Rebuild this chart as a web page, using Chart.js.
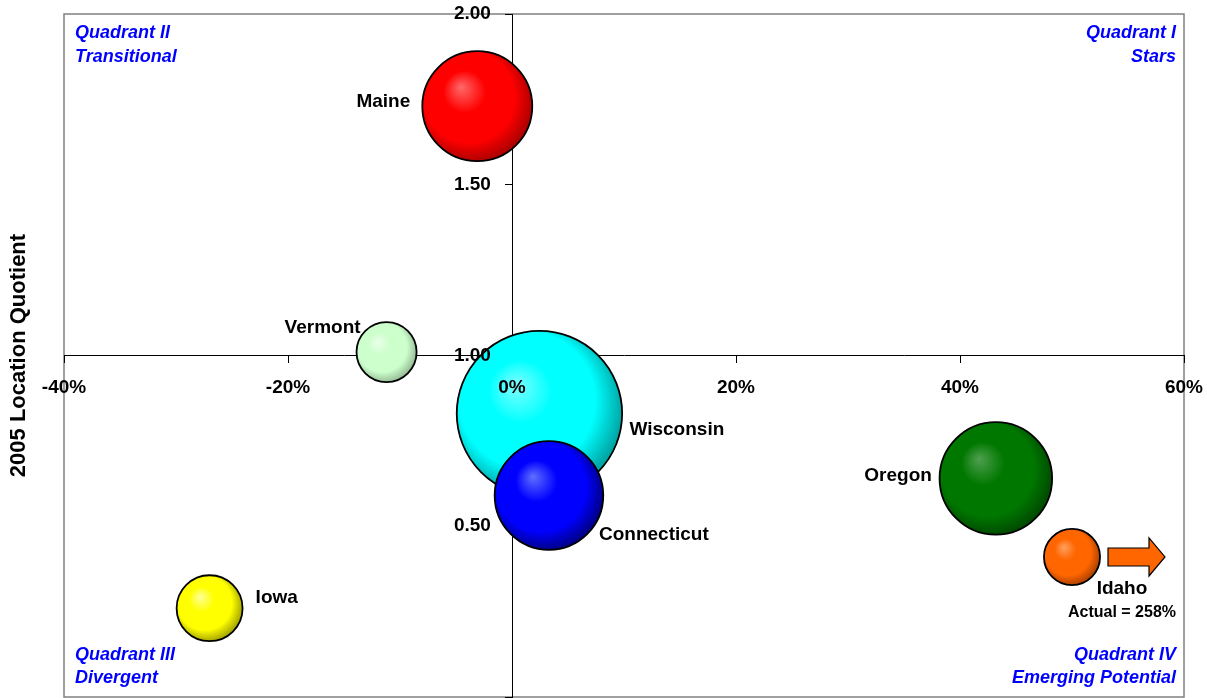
<!DOCTYPE html>
<html>
<head>
<meta charset="utf-8">
<title>2005 Location Quotient</title>
<script src="https://cdn.jsdelivr.net/npm/chart.js@4"></script>
<style>
  body { margin: 0; background: #fff; }
  #lqCanvas { display: block; }
</style>
</head>
<body>
<canvas id="lqCanvas" width="1207" height="698"></canvas>
<script>
// values
const stateNames = ["Maine", "Vermont", "Wisconsin", "Connecticut", "Oregon", "Idaho", "Iowa"];
const growthPct = [-3.1, -11.2, 2.45, 3.3, 43.2, 50.0, -27.0];   // plotted x (Idaho capped, actual 258%)
const locationQuotient = [1.73, 1.01, 0.83, 0.59, 0.64, 0.41, 0.26];
const bubbleSize = [44.2, 13.2, 100, 43.1, 46.3, 11.5, 15.9];    // relative, Wisconsin = 100
const xTickValues = [-40, -20, 0, 20, 40, 60];
const yTickValues = [0, 0.5, 1.0, 1.5, 2.0];
const idahoNote = "Actual = 258%";

const quadrantLabels = [
  ["Quadrant II", "Transitional"],
  ["Quadrant I", "Stars"],
  ["Quadrant III", "Divergent"],
  ["Quadrant IV", "Emerging Potential"]
];

// bubble shading: highlight, body, rim
const bubbleColors = [
  ["#ff6a6a", "#ff0000", "#b00000"],
  ["#eaffea", "#ccffcc", "#98bf98"],
  ["#80ffff", "#00ffff", "#00a8a8"],
  ["#6070ff", "#0000ff", "#00008c"],
  ["#4f9f4f", "#007800", "#004c00"],
  ["#ffa060", "#ff6600", "#b04300"],
  ["#ffff9a", "#ffff00", "#a8a800"]
];

// label placement relative to bubble centre: [dx, dy, align]
const labelOffsets = [
  [-67, -4, "right"],
  [-26, -24, "right"],
  [90, 16, "left"],
  [50, 39, "left"],
  [-64, -3, "right"],
  [50, 32, "center"],
  [46, -10, "left"]
];

const FONT = "'Liberation Sans', Arial, sans-serif";
const MAX_R = 82.7;

const bubbleData = stateNames.map((s, i) => ({
  x: growthPct[i],
  y: locationQuotient[i],
  r: MAX_R * Math.sqrt(bubbleSize[i] / 100)
}));

function bubbleFill(context) {
  const i = context.dataIndex;
  if (i === undefined) return "#ccc";
  const chart = context.chart;
  const sx = chart.scales.x, sy = chart.scales.y;
  if (!chart.chartArea || !sx || sx.width === 0) return bubbleColors[i][1];
  const cx = sx.getPixelForValue(growthPct[i]);
  const cy = sy.getPixelForValue(locationQuotient[i]);
  const r = bubbleData[i].r;
  const g = chart.ctx.createRadialGradient(cx - r * 0.3, cy - r * 0.35, 0, cx - r * 0.1, cy - r * 0.1, r * 1.1);
  g.addColorStop(0, bubbleColors[i][0]);
  g.addColorStop(0.35, bubbleColors[i][1]);
  g.addColorStop(0.75, bubbleColors[i][1]);
  g.addColorStop(1, bubbleColors[i][2]);
  return g;
}

// the axes sit inside the plot, so they must not take room in the layout
const zeroSize = (scale) => {
  scale.width = 0; scale.height = 0;
  scale.paddingLeft = 0; scale.paddingRight = 0;
  scale.paddingTop = 0; scale.paddingBottom = 0;
};

const decorations = {
  id: "decorations",
  beforeDraw(chart) {
    const ctx = chart.ctx;
    const a = chart.chartArea;
    ctx.save();
    ctx.strokeStyle = "#808080";
    ctx.lineWidth = 1.5;
    ctx.strokeRect(a.left, a.top, a.right - a.left, a.bottom - a.top);
    ctx.restore();
  },
  afterDraw(chart) {
    const ctx = chart.ctx;
    const a = chart.chartArea;
    const sx = chart.scales.x, sy = chart.scales.y;
    ctx.save();

    // axis title
    ctx.fillStyle = "#000";
    ctx.font = "bold 22px " + FONT;
    ctx.textAlign = "center";
    ctx.textBaseline = "middle";
    ctx.translate(19, (a.top + a.bottom) / 2);
    ctx.rotate(-Math.PI / 2);
    ctx.fillText("2005 Location Quotient", 0, 0);
    ctx.setTransform(1, 0, 0, 1, 0, 0);

    // quadrant captions
    ctx.fillStyle = "#0000ff";
    ctx.font = "italic bold 18px " + FONT;
    ctx.textAlign = "left";
    ctx.fillText(quadrantLabels[0][0], a.left + 11, a.top + 19);
    ctx.fillText(quadrantLabels[0][1], a.left + 11, a.top + 43);
    ctx.fillText(quadrantLabels[2][0], a.left + 11, a.bottom - 42);
    ctx.fillText(quadrantLabels[2][1], a.left + 11, a.bottom - 19);
    ctx.textAlign = "right";
    ctx.fillText(quadrantLabels[1][0], a.right - 8, a.top + 19);
    ctx.fillText(quadrantLabels[1][1], a.right - 8, a.top + 43);
    ctx.fillText(quadrantLabels[3][0], a.right - 8, a.bottom - 42);
    ctx.fillText(quadrantLabels[3][1], a.right - 8, a.bottom - 19);

    // state names
    ctx.fillStyle = "#000";
    ctx.font = "bold 19px " + FONT;
    stateNames.forEach((name, i) => {
      const cx = sx.getPixelForValue(growthPct[i]);
      const cy = sy.getPixelForValue(locationQuotient[i]);
      const o = labelOffsets[i];
      ctx.textAlign = o[2];
      ctx.fillText(name, cx + o[0], cy + o[1]);
    });

    // Idaho: off-scale note and arrow
    const ii = stateNames.indexOf("Idaho");
    const ix = sx.getPixelForValue(growthPct[ii]);
    const iy = sy.getPixelForValue(locationQuotient[ii]);
    ctx.font = "bold 16px " + FONT;
    ctx.textAlign = "center";
    ctx.fillText(idahoNote, ix + labelOffsets[ii][0], iy + labelOffsets[ii][1] + 24);

    ctx.beginPath();
    ctx.moveTo(ix + 36, iy - 9);
    ctx.lineTo(ix + 77, iy - 9);
    ctx.lineTo(ix + 77, iy - 19);
    ctx.lineTo(ix + 93, iy);
    ctx.lineTo(ix + 77, iy + 19);
    ctx.lineTo(ix + 77, iy + 9);
    ctx.lineTo(ix + 36, iy + 9);
    ctx.closePath();
    ctx.fillStyle = "#ff6600";
    ctx.fill();
    ctx.strokeStyle = "#000";
    ctx.lineWidth = 1.2;
    ctx.stroke();

    ctx.restore();
  }
};

const tickFont = { family: FONT, size: 19, weight: "bold" };

new Chart("lqCanvas", {
  type: "bubble",
  data: {
    datasets: [{
      data: bubbleData,
      backgroundColor: bubbleFill,
      hoverBackgroundColor: bubbleFill,
      borderColor: "#000",
      hoverBorderColor: "#000",
      borderWidth: 1.8,
      hoverBorderWidth: 1.8
    }]
  },
  options: {
    responsive: false,
    animation: false,
    events: [],
    layout: { autoPadding: false, padding: { left: 64, top: 14, right: 23, bottom: 1 } },
    plugins: { legend: { display: false }, tooltip: { enabled: false } },
    scales: {
      x: {
        type: "linear", position: { y: 1 }, min: -40, max: 60,
        afterFit: zeroSize,
        afterBuildTicks: (s) => { s.ticks = xTickValues.map(v => ({ value: v })); },
        border: { display: true, color: "#000", width: 1 },
        grid: { drawOnChartArea: false, drawTicks: true, tickLength: 7, color: "#000" },
        ticks: { z: 1, color: "#000", font: tickFont, padding: 14, maxRotation: 0, autoSkip: false,
                 callback: (v) => v + "%" }
      },
      y: {
        type: "linear", position: { x: 0 }, min: 0, max: 2,
        afterFit: zeroSize,
        afterBuildTicks: (s) => { s.ticks = yTickValues.map(v => ({ value: v })); },
        border: { display: true, color: "#000", width: 1 },
        grid: { drawOnChartArea: false, drawTicks: true, tickLength: 7, color: "#000" },
        // labels on an inner axis ignore padding, so the gap is kept with trailing spaces
        ticks: { z: 1, color: "#000", font: tickFont, autoSkip: false,
                 callback: (v) => v === 0 ? "" : v.toFixed(2) + "    " }
      }
    }
  },
  plugins: [decorations]
});
</script>
</body>
</html>
